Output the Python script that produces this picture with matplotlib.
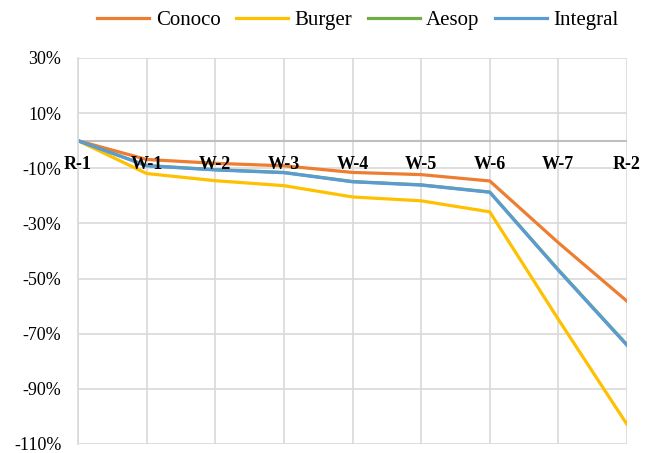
import matplotlib.pyplot as plt
import numpy as np

# stage labels and cumulative change (%) for each model
stages = ['R-1', 'W-1', 'W-2', 'W-3', 'W-4', 'W-5', 'W-6', 'W-7', 'R-2']
conoco = [0, -6.8, -8.2, -9.1, -11.5, -12.3, -14.6, -37.0, -58.2]
burger = [0, -11.9, -14.5, -16.3, -20.4, -21.8, -25.8, -64.8, -102.9]
aesop = [0, -9.0, -10.5, -11.5, -14.8, -16.0, -18.6, -46.8, -74.0]
integral = [0, -9.1, -10.6, -11.6, -14.9, -16.1, -18.7, -47.0, -74.2]

y_ticks = np.arange(-110, 31, 20)

plt.rcParams['font.family'] = ['Liberation Serif', 'DejaVu Serif']

fig = plt.figure(figsize=(6.52, 4.53), dpi=100)
ax = fig.add_axes([78 / 652, 1 - 444 / 453, (627 - 78) / 652, (444 - 58) / 453])

x = np.arange(len(stages))
grid_color = '#D9D9D9'

ax.set_xlim(0, len(stages) - 1)
ax.set_ylim(-110, 30)
ax.set_yticks(y_ticks)
ax.set_yticklabels([f'{v}%' for v in y_ticks], fontsize=13)
ax.set_xticks(x)
ax.set_xticklabels([])
ax.tick_params(length=0, pad=12)
ax.grid(True, color=grid_color, linewidth=1.2)
ax.set_axisbelow(True)
for side in ['top', 'right', 'bottom']:
    ax.spines[side].set_visible(False)
ax.spines['left'].set_color(grid_color)
ax.spines['left'].set_linewidth(1.2)
ax.axhline(0, color='#BFBFBF', linewidth=1.5, zorder=1)

ax.plot(x, conoco, color='#ED7D31', linewidth=2.3, label='Conoco')
ax.plot(x, burger, color='#FFC000', linewidth=2.3, label='Burger')
ax.plot(x, aesop, color='#70AD47', linewidth=2.3, label='Aesop')
ax.plot(x, integral, color='#5B9BD5', linewidth=2.3, label='Integral')

# stage names sit just under the zero line
for xi, name in zip(x, stages):
    ax.annotate(name, (xi, 0), xytext=(0, -11), textcoords='offset points',
                ha='center', va='top', fontsize=13, fontweight='bold')

fig.legend(loc='center', bbox_to_anchor=(358 / 652, 1 - 20 / 453), ncol=4,
           frameon=False, fontsize=15, handlelength=2.5, handletextpad=0.3,
           columnspacing=0.75)

fig.savefig('out.png', dpi=100)
